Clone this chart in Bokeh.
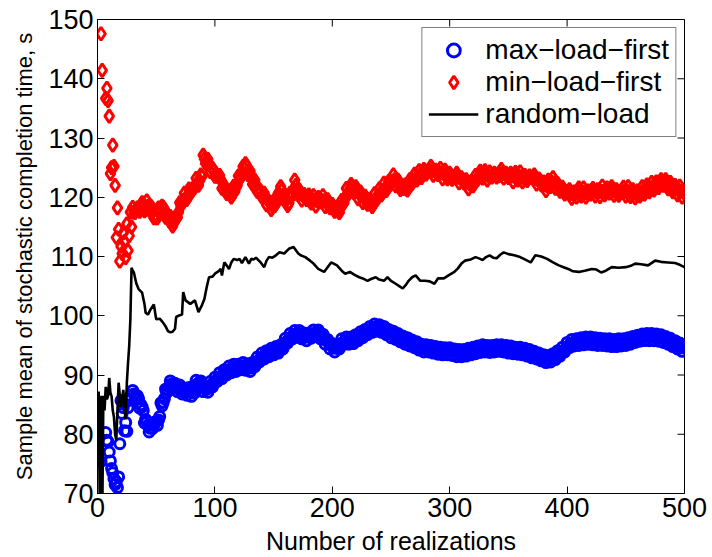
import math
from bokeh.plotting import figure
from bokeh.models import Legend, LegendItem, FixedTicker
from bokeh.embed import file_html
from bokeh.resources import INLINE

# ---------------- data ----------------
x_lim = (0, 500)
y_lim = (70, 150)
x_ticks = [0, 100, 200, 300, 400, 500]
y_ticks = [70, 80, 90, 100, 110, 120, 130, 140, 150]

# max-load-first: first realizations one by one, then even realizations 30..500 (band edges)
# and odd realizations 31..499 (band middle)
max_n_early = [3, 7, 8, 9, 10, 11, 12, 13, 14, 15, 16, 17, 18, 19, 20, 21, 22, 23, 24, 25, 26, 27, 28]
max_v_early = [75.4, 80.3, 79.0, 78.7, 77.0, 75.5, 74.2, 73.5, 72.5, 71.5, 72.0, 71.0, 72.8, 78.4, 85.7,
               83.5, 84.5, 80.6, 82.0, 80.5, 84.5, 85.7, 86.5]
max_v_even = [87.4, 86.0, 86.5, 84.4, 84.6, 81.9, 82.2, 80.4, 81.6, 81.5,
              82.2, 82.4, 85.3, 85.4, 87.6, 87.5, 89.0, 87.7, 88.6, 87.2,
              88.3, 86.8, 87.8, 86.6, 87.9, 86.4, 87.6, 89.1, 88.2, 89.0,
              87.2, 88.2, 87.1, 88.9, 88.0, 89.6, 88.9, 90.4, 89.4, 90.9,
              90.0, 91.5, 90.4, 91.8, 90.6, 91.8, 90.9, 92.1, 90.8, 91.9,
              90.6, 92.1, 91.4, 93.0, 92.2, 93.7, 92.7, 94.1, 93.1, 94.5,
              93.4, 94.8, 93.7, 95.1, 94.4, 96.2, 95.4, 97.0, 96.1, 97.5,
              96.4, 97.5, 96.1, 97.1, 95.8, 97.1, 96.2, 97.6, 96.6, 97.6,
              96.1, 96.9, 95.2, 96.0, 94.4, 95.3, 93.9, 95.2, 94.4, 96.1,
              95.2, 96.4, 95.2, 96.4, 95.3, 96.8, 95.8, 97.3, 96.3, 97.7,
              96.8, 98.2, 97.2, 98.6, 97.4, 98.5, 97.2, 98.2, 96.8, 97.7,
              96.3, 97.4, 96.0, 97.0, 95.6, 96.6, 95.2, 96.3, 94.9, 95.9,
              94.6, 95.6, 94.2, 95.2, 93.9, 95.1, 93.9, 95.0, 93.7, 94.8,
              93.5, 94.7, 93.4, 94.6, 93.4, 94.6, 93.3, 94.4, 93.1, 94.3,
              93.1, 94.3, 93.2, 94.5, 93.4, 94.7, 93.6, 94.9, 93.8, 95.1,
              93.9, 95.0, 93.8, 95.0, 93.9, 95.1, 94.0, 95.1, 93.9, 95.0,
              93.7, 94.9, 93.6, 94.7, 93.5, 94.7, 93.4, 94.5, 93.2, 94.3,
              92.9, 94.0, 92.7, 93.7, 92.4, 93.4, 92.1, 93.3, 92.2, 93.6,
              92.6, 94.1, 93.2, 94.7, 93.9, 95.5, 94.6, 96.0, 94.9, 96.1,
              95.0, 96.3, 95.1, 96.4, 95.2, 96.4, 95.1, 96.3, 95.0, 96.2,
              95.0, 96.1, 94.9, 96.1, 94.8, 96.0, 94.8, 96.1, 94.9, 96.1,
              95.0, 96.3, 95.2, 96.5, 95.5, 96.7, 95.7, 96.9, 95.8, 97.0,
              95.8, 97.0, 95.8, 96.9, 95.7, 96.8, 95.5, 96.5, 95.2, 96.2,
              94.8, 95.8, 94.4, 95.4, 94.0, 94.7]
max_v_odd = [86.8, 86.5, 86.0, 85.0, 84.0, 82.5, 81.5, 81.0, 81.0, 82.0,
             81.5, 83.0, 84.8, 86.0, 87.0, 88.0, 88.5, 88.3, 88.0, 87.8,
             87.6, 87.4, 87.2, 87.2, 87.3, 87.0, 87.0, 88.5, 88.8, 88.4,
             87.8, 87.6, 87.8, 88.3, 88.7, 89.0, 89.5, 89.8, 90.1, 90.3,
             90.6, 90.9, 91.0, 91.2, 91.2, 91.2, 91.4, 91.5, 91.5, 91.3,
             91.2, 91.5, 92.0, 92.4, 92.8, 93.1, 93.3, 93.5, 93.7, 93.9,
             94.0, 94.2, 94.3, 94.5, 95.0, 95.6, 96.0, 96.4, 96.7, 96.9,
             97.0, 96.9, 96.7, 96.5, 96.4, 96.5, 96.8, 97.0, 97.2, 97.0,
             96.7, 96.3, 95.8, 95.4, 95.0, 94.7, 94.5, 94.6, 95.0, 95.5,
             95.8, 95.8, 95.8, 95.8, 95.9, 96.2, 96.4, 96.7, 96.9, 97.1,
             97.4, 97.6, 97.8, 98.0, 98.0, 97.9, 97.8, 97.6, 97.4, 97.1,
             96.9, 96.8, 96.6, 96.4, 96.2, 96.0, 95.8, 95.7, 95.5, 95.3,
             95.2, 95.0, 94.8, 94.6, 94.5, 94.5, 94.5, 94.4, 94.3, 94.2,
             94.1, 94.1, 94.0, 94.0, 94.0, 94.0, 93.9, 93.8, 93.7, 93.7,
             93.7, 93.7, 93.8, 93.9, 94.0, 94.1, 94.2, 94.3, 94.4, 94.5,
             94.5, 94.4, 94.4, 94.4, 94.5, 94.5, 94.6, 94.5, 94.5, 94.4,
             94.3, 94.3, 94.2, 94.1, 94.1, 94.1, 94.0, 93.9, 93.8, 93.7,
             93.5, 93.4, 93.3, 93.1, 93.0, 92.8, 92.7, 92.7, 92.8, 93.0,
             93.2, 93.5, 93.8, 94.1, 94.5, 94.9, 95.2, 95.4, 95.5, 95.5,
             95.6, 95.7, 95.7, 95.8, 95.8, 95.8, 95.7, 95.7, 95.6, 95.6,
             95.6, 95.5, 95.5, 95.5, 95.4, 95.4, 95.4, 95.5, 95.5, 95.5,
             95.6, 95.7, 95.8, 95.9, 96.1, 96.2, 96.3, 96.4, 96.4, 96.4,
             96.4, 96.4, 96.4, 96.3, 96.3, 96.2, 96.1, 95.9, 95.8, 95.6,
             95.4, 95.2, 95.0, 94.8, 94.6]

# min-load-first
min_n_early = [3, 4, 7, 8, 9, 10, 11, 12, 13, 14, 15, 16, 17, 18, 19, 20, 21, 22, 23, 24, 25, 26, 27, 28, 29]
min_v_early = [147.6, 141.4, 136.7, 138.4, 136.3, 133.7, 124.0, 125.0, 128.8, 125.2, 122.0, 113.2, 118.2,
               114.6, 109.2, 111.7, 110.5, 114.0, 112.5, 109.8, 115.5, 111.0, 113.5, 117.5, 115.0]
min_v_even = [118.3, 117.4, 118.2, 117.6, 119.1, 117.7, 119.4, 117.8, 118.4, 116.5,
              116.5, 118.2, 117.7, 118.3, 116.6, 116.5, 116.8, 115.1, 116.5, 116.6,
              119.1, 119.2, 120.7, 119.6, 121.4, 120.8, 121.7, 123.2, 122.0, 123.8,
              127.1, 125.7, 126.4, 124.3, 124.9, 123.5, 123.5, 123.7, 121.5, 121.8,
              120.6, 121.1, 120.0, 121.9, 121.6, 123.6, 123.3, 125.2, 125.7, 123.8,
              124.4, 122.2, 122.9, 121.0, 121.3, 120.0, 120.7, 118.7, 119.3, 117.9,
              119.4, 118.9, 120.7, 121.8, 119.7, 120.0, 118.6, 120.7, 120.5, 122.9,
              120.5, 121.2, 119.5, 120.5, 119.6, 120.4, 119.0, 120.3, 118.5, 120.0,
              119.2, 120.3, 118.4, 119.6, 118.2, 118.8, 117.6, 118.3, 117.4, 119.5,
              119.1, 121.5, 120.6, 122.2, 120.8, 121.8, 119.7, 120.9, 119.1, 120.2,
              118.8, 119.7, 118.4, 120.6, 119.6, 121.4, 120.4, 122.4, 121.1, 122.7,
              122.2, 123.8, 121.9, 122.9, 121.3, 121.5, 122.1, 121.2, 123.0, 122.3,
              123.9, 122.9, 124.5, 123.3, 124.7, 123.9, 124.5, 125.2, 123.7, 124.6,
              123.8, 124.9, 123.1, 124.6, 123.1, 124.1, 123.0, 123.5, 124.1, 122.4,
              123.3, 122.4, 123.0, 121.4, 122.6, 121.9, 123.7, 123.0, 124.4, 123.2,
              124.5, 122.9, 124.3, 123.4, 124.1, 123.4, 123.6, 124.7, 123.2, 124.1,
              123.3, 124.1, 122.6, 124.2, 122.9, 124.3, 122.6, 123.7, 122.8, 123.6,
              123.3, 123.8, 122.2, 123.1, 122.1, 122.6, 121.1, 122.9, 121.8, 123.3,
              121.5, 122.3, 121.0, 121.7, 120.5, 120.8, 121.3, 119.8, 120.9, 120.0,
              121.6, 120.2, 121.6, 120.0, 121.1, 120.5, 121.5, 120.2, 121.3, 120.1,
              121.9, 120.4, 121.6, 120.7, 121.8, 120.3, 121.3, 120.3, 120.9, 121.7,
              120.2, 121.8, 120.1, 121.3, 119.9, 121.1, 120.2, 121.8, 120.5, 122.1,
              120.9, 122.5, 121.2, 122.6, 121.6, 123.0, 122.0, 123.0, 121.4, 122.5,
              120.9, 122.0, 120.4, 121.9, 120.0, 120.9]
min_v_odd = [117.5, 118.0, 118.0, 118.5, 118.5, 118.0, 118.5, 118.5, 118.0, 117.0,
             116.5, 117.5, 118.5, 118.0, 117.0, 116.0, 116.0, 115.7, 116.3, 117.5,
             118.5, 119.5, 119.8, 120.3, 121.0, 121.3, 121.7, 122.5, 122.8, 123.5,
             126.5, 126.2, 125.6, 125.0, 124.5, 124.0, 123.5, 123.0, 122.3, 121.5,
             121.0, 120.6, 120.8, 121.0, 122.0, 123.0, 124.0, 124.8, 125.3, 124.5,
             123.6, 122.7, 122.0, 121.5, 121.0, 120.5, 120.0, 119.5, 119.0, 118.6,
             118.6, 119.5, 120.5, 121.2, 120.3, 119.5, 119.0, 120.0, 121.3, 122.0,
             121.2, 120.5, 120.3, 120.1, 120.0, 119.7, 119.6, 119.5, 119.4, 119.5,
             119.5, 119.4, 119.2, 119.0, 118.8, 118.4, 118.0, 117.6, 118.2, 118.8,
             119.8, 120.6, 121.4, 121.8, 121.4, 121.0, 120.5, 120.2, 119.9, 119.6,
             119.2, 118.9, 119.3, 119.8, 120.3, 120.8, 121.2, 121.5, 121.8, 122.3,
             122.7, 123.0, 122.6, 122.2, 121.8, 121.5, 121.4, 122.0, 122.5, 122.9,
             123.2, 123.5, 123.8, 124.1, 124.3, 124.4, 124.5, 124.5, 124.5, 124.3,
             124.2, 124.1, 124.0, 123.8, 123.6, 123.5, 123.5, 123.5, 123.4, 123.2,
             123.0, 122.8, 122.5, 122.2, 122.0, 122.5, 123.0, 123.6, 124.0, 123.9,
             123.8, 123.6, 123.5, 123.7, 123.8, 123.9, 124.0, 124.0, 124.0, 123.8,
             123.7, 123.6, 123.5, 123.6, 123.6, 123.4, 123.3, 123.3, 123.2, 123.3,
             123.3, 123.1, 123.0, 122.8, 122.5, 122.1, 121.9, 122.3, 122.5, 122.4,
             122.2, 121.9, 121.5, 121.2, 121.0, 120.8, 120.6, 120.6, 120.7, 120.9,
             121.0, 120.9, 120.8, 120.7, 120.8, 120.9, 121.0, 121.0, 120.9, 121.0,
             121.0, 121.1, 121.2, 121.2, 121.1, 121.0, 120.9, 120.8, 120.9, 121.0,
             121.0, 120.9, 120.8, 120.7, 120.6, 120.7, 120.8, 121.0, 121.2, 121.4,
             121.6, 121.8, 122.0, 122.1, 122.3, 122.4, 122.5, 122.3, 122.1, 121.8,
             121.6, 121.4, 121.2, 121.0, 120.8]

# random-load (line)
rnd_n = [1, 2, 3, 4, 5, 6, 7, 8, 9, 10, 11, 12, 13, 14, 15, 16, 17, 18, 19, 20, 21, 22, 23, 24, 25, 26, 27,
         28, 29, 30, 31, 33, 35, 38, 40, 41, 43, 45, 48, 50, 53, 56, 58, 60, 62, 64, 66, 67, 69, 72, 73, 75,
         79, 83, 86, 89, 91, 93, 95, 98, 100, 103, 105, 106, 108, 110, 112, 114, 116, 119, 121, 123, 126,
         129, 131, 133, 135, 137, 139, 142, 144, 146, 149, 152, 155, 159, 163, 167, 171, 173, 177, 181, 184,
         188, 193, 196, 199, 202, 204, 208, 211, 215, 219, 223, 226, 230, 233, 237, 240, 244, 247, 250, 254,
         257, 260, 263, 265, 268, 271, 275, 279, 283, 287, 290, 295, 299, 304, 307, 310, 313, 318, 322, 326,
         328, 331, 334, 337, 340, 343, 346, 350, 355, 360, 364, 369, 373, 378, 383, 388, 393, 397, 401, 405,
         410, 415, 421, 425, 429, 433, 438, 444, 450, 455, 458, 463, 469, 475, 480, 486, 492, 496, 500]
rnd_v = [87.2, 66.0, 86.5, 65.0, 86.5, 84.0, 88.0, 85.9, 86.5, 89.5, 87.0, 86.4, 84.0, 82.9, 80.0, 79.0,
         83.9, 88.7, 86.5, 84.5, 86.0, 87.5, 84.0, 82.5, 88.7, 92.0, 94.9, 99.4, 108.1, 107.6, 107.3, 105.5,
         104.5, 103.9, 102.0, 100.5, 100.2, 101.0, 101.9, 99.4, 99.5, 98.8, 98.2, 97.4, 97.2, 97.3, 97.8,
         99.8, 100.0, 100.2, 104.0, 102.6, 102.0, 102.6, 100.6, 101.8, 102.8, 104.8, 106.5, 106.6, 107.1,
         107.5, 107.9, 106.8, 109.0, 108.5, 107.9, 109.0, 109.6, 109.4, 109.6, 108.9, 109.9, 108.8, 109.6,
         109.5, 109.8, 109.4, 109.0, 108.2, 109.3, 109.9, 109.8, 110.2, 110.7, 110.5, 111.3, 111.6, 110.5,
         110.2, 109.9, 109.3, 108.8, 107.9, 107.4, 108.2, 109.0, 108.7, 108.5, 107.6, 107.1, 107.4, 106.9,
         106.5, 106.3, 105.9, 106.2, 106.5, 106.1, 105.9, 106.5, 105.9, 105.4, 105.0, 104.6, 105.3, 105.9,
         106.5, 106.8, 105.9, 105.9, 105.8, 105.4, 106.3, 106.3, 106.8, 107.4, 108.0, 108.8, 109.3, 109.5,
         109.9, 109.6, 109.4, 109.9, 110.2, 109.8, 109.7, 110.3, 110.7, 110.4, 110.2, 109.9, 109.5, 109.0,
         110.2, 110.0, 109.6, 109.0, 108.5, 108.2, 107.9, 107.5, 107.4, 107.6, 107.9, 107.8, 107.3, 107.6,
         108.2, 108.1, 108.2, 108.5, 108.8, 108.7, 108.5, 109.3, 109.1, 109.0, 108.9, 108.6, 108.2]

labels = ["max\u2212load\u2212first", "min\u2212load\u2212first", "random\u2212load"]
x_label = "Number of realizations"
y_label = "Sample mean of stochastic completion time, s"

# realization numbers of the even / odd readings
max_n = (max_n_early + list(range(30, 30 + 2 * len(max_v_even), 2))
         + list(range(31, 31 + 2 * len(max_v_odd), 2)))
max_v = max_v_early + max_v_even + max_v_odd
min_n = (min_n_early + list(range(30, 30 + 2 * len(min_v_even), 2))
         + list(range(31, 31 + 2 * len(min_v_odd), 2)))
min_v = min_v_early + min_v_even + min_v_odd

FONT = "Liberation Sans"

p = figure(width=712, height=557, x_range=x_lim, y_range=y_lim,
           output_backend="svg", toolbar_location=None,
           min_border_left=97, min_border_right=28, min_border_top=19, min_border_bottom=64)
p.background_fill_color = "white"
p.border_fill_color = "white"
p.outline_line_color = "black"
p.outline_line_width = 1
p.xgrid.visible = False
p.ygrid.visible = False

for ax, ticks in ((p.xaxis[0], x_ticks), (p.yaxis[0], y_ticks)):
    ax.ticker = FixedTicker(ticks=ticks)
    ax.major_tick_in = 7
    ax.major_tick_out = 0
    ax.minor_tick_line_color = None
    ax.axis_line_color = "black"
    ax.axis_line_width = 1
    ax.major_tick_line_color = "black"
    ax.major_tick_line_width = 1
    ax.major_label_text_font = FONT
    ax.major_label_text_color = "black"
    ax.major_label_text_font_size = "27px"
    ax.major_label_standoff = 4
    ax.axis_label_text_font = FONT
    ax.axis_label_text_color = "black"
    ax.axis_label_text_font_style = "normal"

p.xaxis[0].axis_label = x_label
p.xaxis[0].axis_label_text_font_size = "25px"
p.xaxis[0].axis_label_standoff = 7
p.yaxis[0].axis_label = y_label
p.yaxis[0].axis_label_text_font_size = "22px"
p.yaxis[0].axis_label_standoff = 8

# inward tick marks on the top and right edges (half of each dash is clipped by the frame)
p.scatter(x_ticks, [y_lim[1]] * len(x_ticks), marker="dash", size=14, angle=math.pi / 2,
          line_color="black", line_width=1)
p.scatter([x_lim[1]] * len(y_ticks), y_ticks, marker="dash", size=14,
          line_color="black", line_width=1)

r_max = p.scatter(max_n, max_v, marker="circle", size=10, fill_color=None,
                  line_color="#0000ff", line_width=3)
r_min = p.scatter(min_n, min_v, marker="diamond", size=13, fill_color=None,
                  line_color="#ff0000", line_width=3)
r_rnd = p.line(rnd_n, rnd_v, line_color="black", line_width=2.6)

legend = Legend(items=[LegendItem(label=labels[0], renderers=[r_max]),
                       LegendItem(label=labels[1], renderers=[r_min]),
                       LegendItem(label=labels[2], renderers=[r_rnd])],
                location="top_right")
legend.margin = 8
legend.padding = 6
legend.spacing = 0
legend.glyph_width = 50
legend.glyph_height = 32
legend.label_height = 32
legend.label_standoff = 7
legend.label_text_font = FONT
legend.label_text_font_size = "28px"
legend.label_text_color = "black"
legend.border_line_color = "black"
legend.border_line_width = 1
legend.background_fill_color = "white"
legend.background_fill_alpha = 1
p.add_layout(legend, "center")

open("out.html", "w").write(file_html(p, INLINE))
